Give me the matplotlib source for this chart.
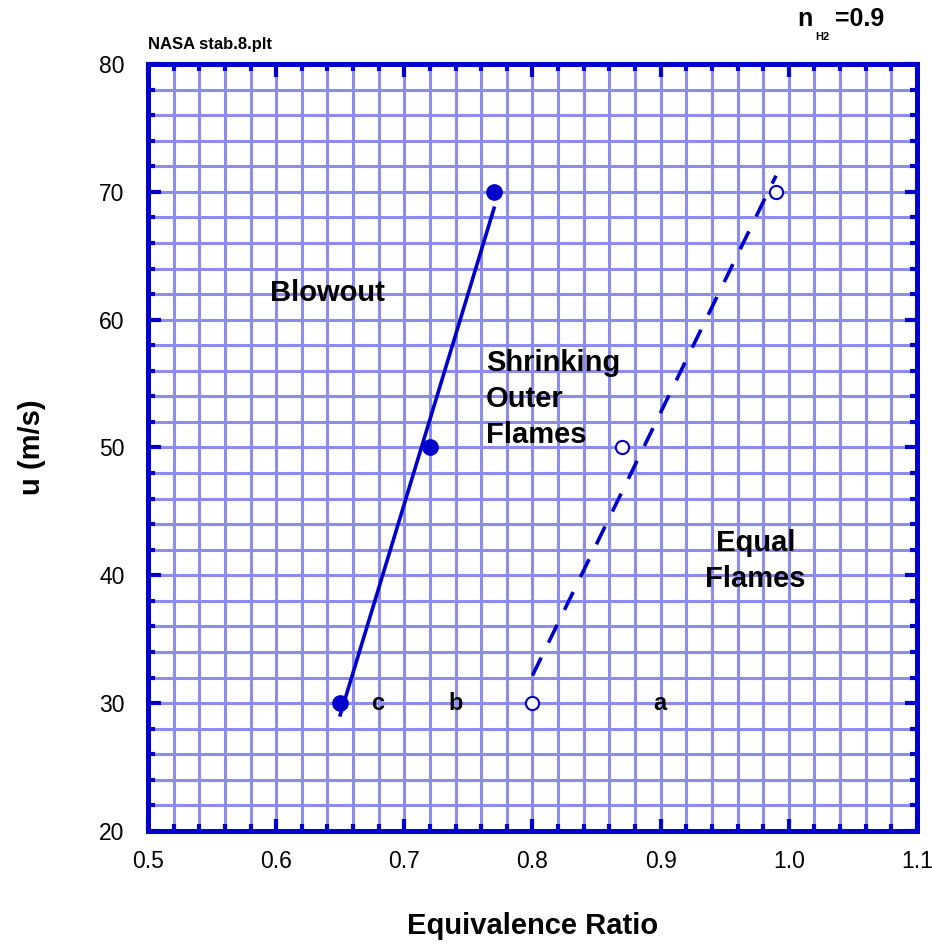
import matplotlib
matplotlib.use("Agg")
import matplotlib.pyplot as plt
import numpy as np

plt.rcParams['font.family'] = ['Liberation Sans', 'DejaVu Sans']

# stability boundaries, u vs equivalence ratio
phi_blowout = [0.65, 0.72, 0.77]
u_blowout = [30, 50, 70]
phi_equal = [0.80, 0.87, 0.99]
u_equal = [30, 50, 70]

xticks = [0.5, 0.6, 0.7, 0.8, 0.9, 1.0, 1.1]
xtick_labels = ['0.5', '0.6', '0.7', '0.8', '0.9', '1.0', '1.1']
yticks = [20, 30, 40, 50, 60, 70, 80]

blue = '#0000cc'
gridc = '#8c8cee'

fig = plt.figure(figsize=(9.32, 9.51), dpi=100)
ax = fig.add_axes([0.1588, 0.1262, 0.8251, 0.8065])

ax.set_xlim(0.5, 1.1)
ax.set_ylim(20, 80)
ax.set_xticks(xticks)
ax.set_xticklabels(xtick_labels)
ax.set_yticks(yticks)
ax.set_xticks(np.arange(0.5, 1.1001, 0.02), minor=True)
ax.set_yticks(np.arange(20, 80.001, 2), minor=True)
ax.grid(which='both', color=gridc, lw=2.2, zorder=0)
ax.set_axisbelow(True)

for s in ax.spines.values():
    s.set_color(blue)
    s.set_linewidth(3.6)
    s.set_zorder(5)
ax.tick_params(which='both', direction='in', top=True, right=True, color=blue,
               width=3, labelsize=16.5)
ax.tick_params(which='major', length=9)
ax.tick_params(which='minor', length=5)
ax.tick_params(axis='x', pad=14)
ax.tick_params(axis='y', pad=17)

# least-squares lines through each set of points
for phi, u, ls in [(phi_blowout, u_blowout, '-'), (phi_equal, u_equal, (0, (5.5, 4.6)))]:
    k, b = np.polyfit(phi, u, 1)
    xs = np.array([min(phi), max(phi)])
    ax.plot(xs, k * xs + b, color=blue, lw=2.6, ls=ls, zorder=3)

ax.plot(phi_blowout, u_blowout, 'o', color=blue, ms=11, zorder=4)
ax.plot(phi_equal, u_equal, 'o', mfc='white', mec=blue, mew=1.5, ms=9.5, zorder=4)

tk = dict(fontsize=21, fontweight='bold', zorder=6)
ax.text(0.595, 62.1, 'Blowout', va='center', ha='left', **tk)
ax.text(0.7637, 53.8, 'Shrinking\nOuter\nFlames', va='center', ha='left', linespacing=1.35, **tk)
ax.text(0.974, 41.1, 'Equal\nFlames', va='center', ha='center', linespacing=1.35, **tk)
lk = dict(fontsize=17, fontweight='bold', va='center', ha='center', zorder=6)
ax.text(0.679, 30, 'c', **lk)
ax.text(0.740, 30, 'b', **lk)
ax.text(0.899, 30, 'a', **lk)

ax.set_xlabel('Equivalence Ratio', fontsize=21, fontweight='bold', labelpad=28)
ax.set_ylabel('u (m/s)', fontsize=21, fontweight='bold', labelpad=38)

fig.text(148 / 932, 1 - 45 / 951, 'NASA stab.8.plt', fontsize=12, fontweight='bold',
         ha='left', va='center')
fig.text(797 / 932, 1 - 19 / 951, 'n', fontsize=18, fontweight='bold', ha='left', va='center')
fig.text(815 / 932, 1 - 37 / 951, 'H2', fontsize=8, fontweight='bold', ha='left', va='center')
fig.text(835 / 932, 1 - 19 / 951, '=0.9', fontsize=18, fontweight='bold', ha='left', va='center')

fig.savefig('out.png', dpi=100)
